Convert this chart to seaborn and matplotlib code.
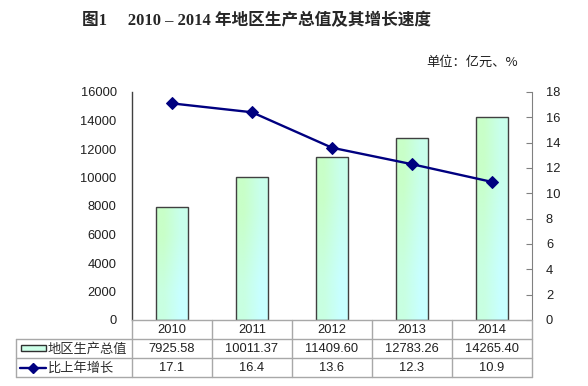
import numpy as np
import pandas as pd
import matplotlib
matplotlib.use("Agg")
import matplotlib.pyplot as plt
import matplotlib.transforms as mtransforms
from matplotlib.lines import Line2D
from matplotlib.patches import Rectangle
import seaborn as sns

# datos
years = ["2010", "2011", "2012", "2013", "2014"]
gdp = [7925.58, 10011.37, 11409.60, 12783.26, 14265.40]
growth = [17.1, 16.4, 13.6, 12.3, 10.9]
gdp_labels = ["7925.58", "10011.37", "11409.60", "12783.26", "14265.40"]
growth_labels = ["17.1", "16.4", "13.6", "12.3", "10.9"]
series_names = ["地区生产总值", "比上年增长"]

sns.set_style("white")
plt.rcParams["font.family"] = ["Liberation Sans", "Noto Sans CJK SC", "DejaVu Sans"]

W, H = 588, 386
fig = plt.figure(figsize=(W / 100, H / 100), dpi=100)

def fx(px):
    return px / W

def fy(py):
    return 1 - py / H

ax = fig.add_axes([fx(132), fy(320), fx(532) - fx(132), fy(92) - fy(320)])
df = pd.DataFrame({"year": years, "gdp": gdp, "growth": growth})

sns.barplot(data=df, x="year", y="gdp", ax=ax, width=0.4, color="#ccffe0",
            edgecolor="#404040", linewidth=1.0, saturation=1)

# relleno en degradado para las barras
grad = np.zeros((2, 2, 3))
grad[0, 0] = (200 / 255, 1.0, 200 / 255)
grad[0, 1] = (200 / 255, 1.0, 235 / 255)
grad[1, 0] = (200 / 255, 1.0, 225 / 255)
grad[1, 1] = (200 / 255, 1.0, 1.0)
for p in ax.patches:
    x0, y0 = p.get_x(), p.get_y()
    w, h = p.get_width(), p.get_height()
    im = ax.imshow(grad, extent=(x0, x0 + w, y0, y0 + h), aspect="auto",
                   interpolation="bilinear", origin="upper", zorder=p.get_zorder())
    im.set_clip_path(p)
    p.set_facecolor("none")
    p.set_zorder(p.get_zorder() + 0.5)

ax.set_xlim(-0.5, 4.5)
ax.set_ylim(0, 16000)
ax.set_yticks(np.arange(0, 16001, 2000))
ax.set_xticks([])
ax.set_xlabel("")
ax.set_ylabel("")
ax.tick_params(axis="y", length=0, pad=11, labelsize=9.3, colors="#202020")
for s in ["top", "right", "bottom"]:
    ax.spines[s].set_visible(False)
ax.spines["left"].set_color("#404040")
ax.spines["left"].set_linewidth(1.0)

ax2 = ax.twinx()
sns.lineplot(x=np.arange(len(years)), y=growth, ax=ax2, color="#000080",
             linewidth=1.7, marker="D", markersize=6.5, markeredgecolor="#000080")
ax2.set_ylim(0, 18)
ax2.set_yticks(np.arange(0, 19, 2))
ax2.set_xlim(-0.5, 4.5)
ax2.tick_params(axis="y", direction="in", length=4, pad=10, labelsize=9.3,
                colors="#202020", color="#808080")
for s in ["top", "left", "bottom"]:
    ax2.spines[s].set_visible(False)
ax2.spines["right"].set_color("#808080")

# tabla de datos debajo del grafico
bt = mtransforms.blended_transform_factory(ax.transData, fig.transFigure)
grid = "#a8a8a8"
rows_y = [320, 339, 358, 377]
for i, py in enumerate(rows_y):
    x_start = fx(132) if i == 0 else fx(16)
    fig.add_artist(Line2D([x_start, fx(532)], [fy(py), fy(py)], color=grid, lw=1.0))
for k in range(len(years) + 1):
    fig.add_artist(Line2D([k - 0.5, k - 0.5], [fy(320), fy(377)], color=grid,
                          lw=1.0, transform=bt))
fig.add_artist(Line2D([fx(16), fx(16)], [fy(339), fy(377)], color=grid, lw=1.0))

for i in range(len(years)):
    fig.text(i, fy(330), years[i], transform=bt, ha="center", va="center",
             fontsize=9.3, color="#202020")
    fig.text(i, fy(349), gdp_labels[i], transform=bt, ha="center", va="center",
             fontsize=9.3, color="#202020")
    fig.text(i, fy(368), growth_labels[i], transform=bt, ha="center", va="center",
             fontsize=9.3, color="#202020")

# leyenda dentro de la tabla
fig.add_artist(Rectangle((fx(21), fy(351)), fx(46) - fx(21), fy(345) - fy(351),
                         facecolor="#ccffe8", edgecolor="#303030", lw=1.0))
fig.add_artist(Line2D([fx(20), fx(46)], [fy(368), fy(368)], color="#000080", lw=1.7))
fig.add_artist(Line2D([fx(33)], [fy(368)], color="#000080", marker="D",
                      markersize=5, lw=0))
fig.text(fx(48), fy(349), series_names[0], ha="left", va="center", fontsize=9.5,
         color="#303030", family=["Noto Sans CJK SC"])
fig.text(fx(48), fy(368), series_names[1], ha="left", va="center", fontsize=9.5,
         color="#303030", family=["Noto Sans CJK SC"])

fig.text(fx(257), fy(21), "图1\u3000 2010 – 2014 年地区生产总值及其增长速度",
         ha="center", va="center", fontsize=12, fontweight="bold",
         family=["Liberation Serif", "Noto Sans CJK SC"])
fig.text(fx(518), fy(62), "单位：亿元、%", ha="right", va="center", fontsize=9.5,
         family=["Noto Sans CJK SC"], color="#202020")

fig.savefig("out.png", dpi=100)
